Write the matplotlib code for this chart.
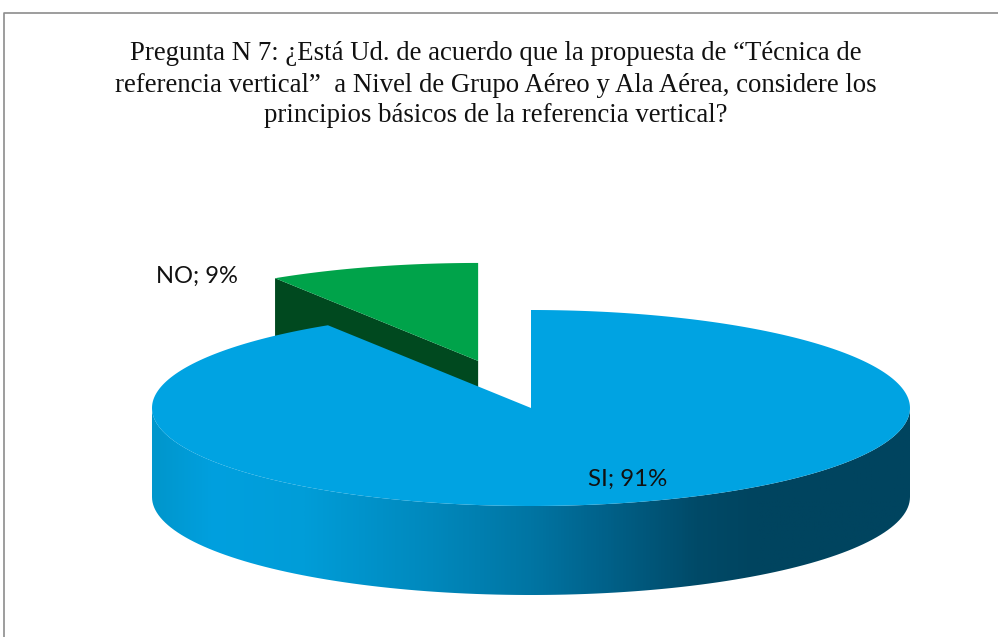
import numpy as np
import matplotlib
matplotlib.use("Agg")
import matplotlib.pyplot as plt
from matplotlib.colors import LinearSegmentedColormap
from matplotlib.patches import PathPatch, Polygon
from matplotlib.path import Path

# Chart data
categories = ["SI", "NO"]
shares = [91, 9]
title_lines = [
    "Pregunta N 7: ¿Está Ud. de acuerdo que la propuesta de “Técnica de",
    "referencia vertical”  a Nivel de Grupo Aéreo y Ala Aérea, considere los",
    "principios básicos de la referencia vertical?",
]

# Pie geometry in pixels
cx, cy = 531, 408
rx, ry = 379, 98
depth = 89
explode = 0.5

fig = plt.figure(figsize=(9.98, 6.37), dpi=100)
ax = fig.add_axes([0, 0, 1, 1])
ax.set_xlim(0, 998)
ax.set_ylim(637, 0)
ax.axis("off")


def rim(angle, x0=cx, y0=cy):
    # angle in degrees, clockwise from 12 o'clock
    a = np.radians(angle)
    return x0 + rx * np.sin(a), y0 - ry * np.cos(a)


si_angle = 360 * shares[0] / sum(shares)

# Exploded NO slice sits behind the big one
mid = si_angle + (360 - si_angle) / 2
nx = cx + explode * rx * np.sin(np.radians(mid))
ny = cy - explode * ry * np.cos(np.radians(mid))
arc = np.linspace(si_angle, 360, 60)
xs, ys = rim(arc, nx, ny)
ax.add_patch(Polygon([(nx, ny + depth), (xs[0], ys[0] + depth), (xs[0], ys[0]), (nx, ny)],
                     closed=True, fc="#00491F", ec="none", zorder=1))
ax.add_patch(Polygon(np.r_[[(nx, ny)], np.c_[xs, ys]], closed=True, fc="#00A34A", ec="none", zorder=2))

# Side of the SI slice, shaded from left to right
side_colors = [
    (0.00, "#0096CC"), (0.08, "#00A0DF"), (0.20, "#009DD8"), (0.37, "#0088BC"),
    (0.50, "#0075A3"), (0.59, "#00638C"), (0.72, "#004A68"), (0.80, "#00445F"),
    (1.00, "#00445F"),
]
cmap = LinearSegmentedColormap.from_list("side", side_colors)
front = np.linspace(90, 270, 120)
fx, fy = rim(front)
side_verts = np.r_[np.c_[fx, fy], np.c_[fx[::-1], fy[::-1] + depth]]
side_path = Path(np.r_[side_verts, side_verts[:1]], closed=True)
side_patch = PathPatch(side_path, fc="none", ec="none", zorder=3)
ax.add_patch(side_patch)
img = ax.imshow(np.linspace(0, 1, 512)[None, :], cmap=cmap, aspect="auto",
                extent=(cx - rx, cx + rx, cy + ry + depth, cy), zorder=3)
img.set_clip_path(side_patch)
ax.set_xlim(0, 998)
ax.set_ylim(637, 0)

# Top of the SI slice
arc = np.linspace(0, si_angle, 300)
xs, ys = rim(arc)
ax.add_patch(Polygon(np.r_[[(cx, cy)], np.c_[xs, ys]], closed=True, fc="#00A3E2", ec="none", zorder=4))

# Data labels
label_font = ["Lato", "DejaVu Sans"]
ax.text(628, 479, f"{categories[0]}; {shares[0]}%", ha="center", va="center",
        fontsize=17.3, family=label_font, color="#111111", zorder=5)
ax.text(197, 276, f"{categories[1]}; {shares[1]}%", ha="center", va="center",
        fontsize=17, family=label_font, color="#111111", zorder=5)

# Title
for line, y in zip(title_lines, [54, 85, 116]):
    ax.text(496, y, line, ha="center", va="center", fontsize=19.3,
            family="Liberation Serif", color="#111111", zorder=5)

# Frame: only the top and left edges are in view
ax.plot([4.5, 4.5, 998], [637, 12.5, 12.5], color="#8C8C8C", lw=1.2, zorder=6)

fig.savefig("out.png", dpi=100)
